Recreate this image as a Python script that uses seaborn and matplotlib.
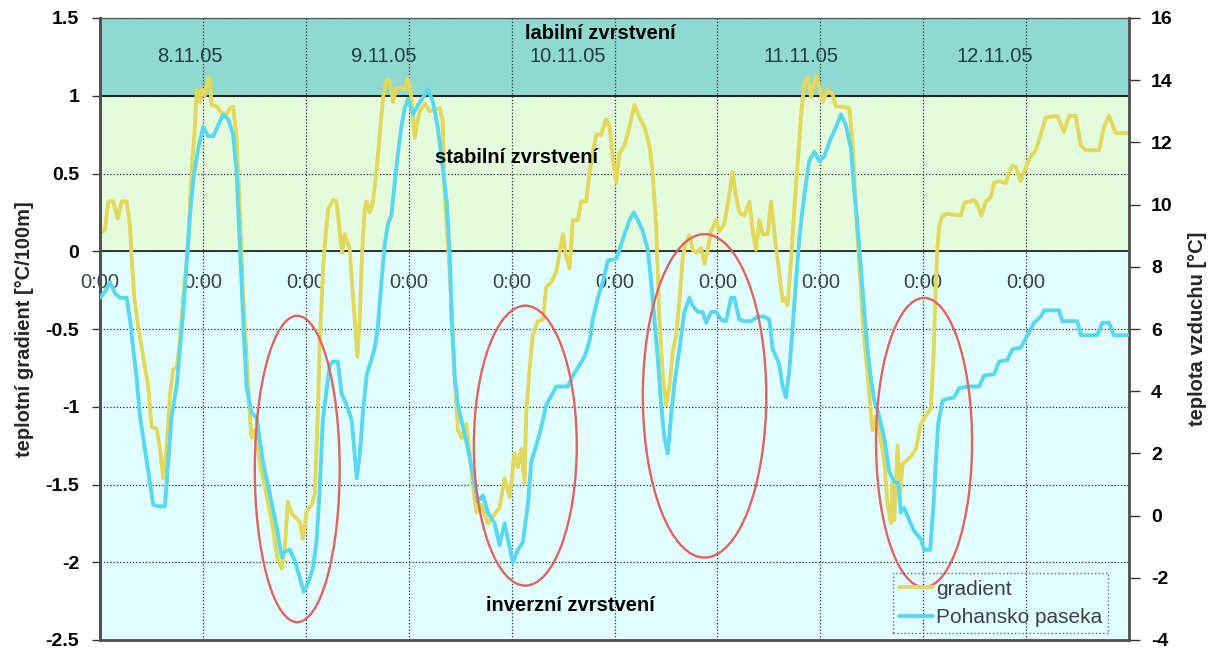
import matplotlib
matplotlib.use("Agg")
import matplotlib.pyplot as plt
from matplotlib.patches import Ellipse
import numpy as np
import pandas as pd
import seaborn as sns

# ---- measured series (time in hours from the start of the record) ----
grad_hours = [0.00, 0.58, 0.97, 1.55, 2.06, 2.53, 3.11, 3.50, 3.69, 4.00, 4.46, 5.04, 5.63, 6.02, 6.61,
              6.99, 7.37, 7.77, 8.16, 8.54, 8.94, 9.32, 9.70, 10.29, 10.68, 11.07, 11.27, 11.65, 11.85,
              12.23, 12.62, 12.82, 13.01, 13.60, 14.18, 14.76, 15.15, 15.53, 15.93, 16.31, 16.70, 17.09,
              17.48, 17.67, 18.06, 18.64, 19.22, 19.81, 20.16, 20.74, 21.20, 21.55, 21.90, 22.37, 22.95,
              23.30, 23.65, 24.12, 24.70, 25.05, 25.43, 25.63, 26.02, 26.21, 26.60, 27.18, 27.58, 27.96,
              28.23, 28.54, 29.13, 29.39, 29.71, 30.02, 30.29, 30.56, 30.87, 31.07, 31.46, 31.84, 32.24,
              32.62, 33.01, 33.40, 33.79, 34.17, 34.57, 35.15, 35.53, 35.92, 36.31, 36.70, 37.08, 37.28,
              37.86, 38.45, 39.61, 39.96, 40.19, 40.58, 40.97, 41.16, 41.36, 41.74, 42.14, 42.72, 43.11,
              43.49, 43.89, 44.47, 45.24, 46.02, 46.60, 47.18, 47.77, 48.35, 48.73, 49.13, 49.51, 49.71,
              50.10, 50.48, 51.06, 51.65, 52.04, 52.62, 53.21, 53.59, 53.98, 54.37, 54.76, 55.14, 55.72,
              56.12, 56.70, 57.09, 57.47, 57.87, 58.45, 59.03, 59.42, 59.80, 60.20, 60.58, 61.17, 61.75,
              62.33, 62.91, 63.50, 64.08, 64.46, 64.86, 65.24, 65.63, 66.02, 66.41, 66.79, 67.19, 67.57,
              67.96, 68.35, 68.74, 69.12, 69.52, 70.10, 70.49, 70.87, 71.27, 71.85, 72.23, 72.82, 73.40,
              73.78, 74.18, 74.56, 75.15, 75.73, 76.11, 76.51, 76.89, 77.28, 77.86, 78.26, 78.64, 79.03,
              79.61, 79.81, 80.19, 80.59, 80.97, 81.35, 81.75, 82.14, 82.52, 82.92, 83.50, 83.88, 84.27,
              84.85, 85.43, 85.83, 86.60, 87.38, 87.76, 88.16, 88.54, 88.93, 89.32, 89.71, 90.09, 90.49,
              90.87, 91.46, 91.84, 92.24, 92.42, 92.62, 93.01, 93.32, 93.59, 93.98, 94.57, 95.15, 95.73,
              96.50, 96.90, 97.20, 97.48, 97.67, 97.87, 98.25, 98.83, 100.39, 100.78, 101.94, 102.33,
              102.79, 103.30, 103.89, 104.27, 104.85, 105.63, 106.02, 106.40, 106.80, 107.38, 107.96,
              108.55, 109.13, 109.71, 110.29, 111.65, 112.43, 113.01, 113.79, 114.37, 114.96, 116.51,
              117.09, 117.67, 118.45, 119.80]
grad_values = [0.11, 0.14, 0.32, 0.32, 0.21, 0.32, 0.32, 0.16, -0.04, -0.30, -0.49, -0.68, -0.87, -1.13, -1.14,
               -1.27, -1.46, -1.27, -0.92, -0.76, -0.75, -0.58, -0.30, 0.04, 0.51, 0.80, 1.04, 0.96, 1.04,
               1.00, 1.12, 1.10, 0.94, 0.93, 0.89, 0.88, 0.92, 0.93, 0.73, 0.27, -0.30, -0.68,
               -1.06, -1.20, -1.15, -1.37, -1.51, -1.68, -1.78, -1.99, -2.04, -1.91, -1.61, -1.69, -1.72,
               -1.74, -1.85, -1.67, -1.63, -1.56, -1.00, -0.58, -0.11, 0.04, 0.27, 0.33, 0.32, 0.13,
               -0.01, 0.11, 0.01, -0.20, -0.44, -0.68, -0.44, -0.01, 0.27, 0.32, 0.25, 0.32, 0.51,
               0.75, 0.99, 1.10, 1.10, 0.96, 1.05, 1.05, 1.04, 1.11, 0.99, 0.73, 0.85, 0.90,
               0.95, 0.90, 0.92, 0.84, 0.39, 0.04, -0.32, -0.56, -0.80, -1.15, -1.20, -1.11, -1.30,
               -1.51, -1.68, -1.63, -1.75, -1.69, -1.65, -1.46, -1.58, -1.30, -1.39, -1.27, -1.49, -1.04,
               -0.75, -0.54, -0.45, -0.44, -0.23, -0.20, -0.13, -0.01, 0.11, -0.04, -0.11, 0.20, 0.20,
               0.32, 0.32, 0.51, 0.63, 0.75, 0.75, 0.85, 0.80, 0.60, 0.44, 0.63, 0.68, 0.80,
               0.94, 0.86, 0.80, 0.68, 0.50, 0.16, -0.44, -0.80, -0.99, -0.87, -0.65, -0.54, -0.32,
               -0.04, 0.06, 0.10, 0.01, -0.01, 0.02, -0.08, 0.01, 0.13, 0.20, 0.13, 0.18, 0.37,
               0.51, 0.35, 0.25, 0.23, 0.32, 0.13, 0.01, 0.20, 0.11, 0.11, 0.32, 0.12, -0.06,
               -0.32, -0.30, -0.35, -0.06, 0.27, 0.56, 0.87, 1.08, 1.12, 0.99, 1.13, 1.06, 0.96,
               1.04, 1.01, 0.93, 0.93, 0.92, 0.70, 0.27, -0.08, -0.44, -0.68, -0.92, -1.15, -1.06,
               -1.15, -1.35, -1.63, -1.75, -1.49, -1.73, -1.25, -1.56, -1.37, -1.35, -1.32, -1.27, -1.11,
               -1.04, -1.01, -0.68, -0.20, 0.04, 0.16, 0.23, 0.24, 0.23, 0.31, 0.33, 0.30,
               0.23, 0.32, 0.35, 0.44, 0.45, 0.44, 0.51, 0.55, 0.54, 0.45, 0.54,
               0.61, 0.65, 0.75, 0.86, 0.87, 0.77, 0.87, 0.87, 0.68, 0.65, 0.65,
               0.80, 0.87, 0.76, 0.76]

temp_hours = [0.00, 0.58, 1.17, 1.75, 2.33, 3.11, 3.50, 3.88, 4.28, 4.66, 5.04, 5.44, 5.83, 6.21, 6.79,
              7.57, 7.96, 8.35, 8.94, 9.32, 9.70, 10.10, 10.49, 10.87, 11.45, 12.04, 12.62, 13.20, 13.78,
              14.36, 14.95, 15.53, 15.93, 16.31, 16.70, 17.09, 17.67, 18.26, 18.99, 19.81, 20.62, 21.20,
              21.55, 22.14, 22.72, 23.30, 23.77, 24.23, 24.82, 25.28, 25.63, 25.98, 26.45, 26.80, 27.15,
              27.73, 28.19, 28.54, 28.89, 29.36, 29.71, 29.94, 30.29, 30.64, 31.11, 31.69, 32.04, 32.39,
              32.82, 33.20, 33.59, 33.98, 34.37, 34.75, 35.15, 35.53, 35.92, 36.50, 37.08, 37.67, 38.25,
              38.83, 39.38, 39.96, 40.43, 40.78, 41.01, 41.36, 41.74, 42.33, 42.91, 43.49, 44.07, 44.66,
              45.24, 46.02, 46.60, 47.18, 47.57, 48.15, 48.73, 49.32, 49.90, 50.30, 50.88, 51.46, 52.04,
              52.62, 53.21, 54.56, 55.14, 55.72, 56.50, 57.09, 57.47, 58.05, 58.64, 59.22, 60.20, 60.58,
              61.17, 61.75, 62.25, 62.72, 63.30, 63.88, 64.28, 64.66, 65.04, 65.44, 65.82, 66.21, 66.60,
              66.99, 67.57, 68.15, 68.74, 69.12, 69.71, 70.29, 70.68, 71.27, 71.85, 72.43, 73.01, 73.60,
              73.98, 74.56, 75.15, 75.93, 76.69, 77.48, 78.06, 78.44, 79.03, 79.22, 79.61, 80.00, 80.38,
              80.77, 81.16, 81.55, 81.93, 82.33, 82.71, 83.30, 83.88, 84.46, 85.05, 85.83, 86.41, 86.99,
              87.58, 87.96, 88.34, 88.74, 89.13, 89.51, 89.91, 90.29, 90.87, 91.46, 92.04, 92.62, 93.08,
              93.40, 93.78, 94.37, 94.95, 95.73, 96.12, 96.82, 97.20, 97.48, 97.75, 98.25, 98.83, 99.61,
              100.19, 101.36, 102.52, 103.11, 104.27, 104.85, 105.82, 106.40, 107.38, 108.15, 108.93,
              109.71, 110.10, 111.84, 112.23, 113.98, 114.37, 116.30, 116.89, 117.67, 118.25, 119.80]
temp_values = [7.0, 7.2, 7.5, 7.15, 7.0, 7.0, 6.3, 5.35, 4.4, 3.2, 2.5, 1.75, 1.05, 0.35, 0.3,
               0.3, 1.75, 3.2, 4.15, 5.35, 6.55, 8.1, 9.65, 10.8, 11.8, 12.5, 12.2, 12.2, 12.55,
               12.9, 12.75, 12.25, 11.05, 8.7, 6.3, 4.15, 3.3, 3.15, 1.75, 0.7, -0.4, -1.35,
               -1.15, -1.1, -1.45, -2.0, -2.45, -2.2, -1.7, -0.75, 0.9, 3.05, 4.1, 4.85, 4.95,
               4.95, 3.9, 3.7, 3.45, 3.05, 1.95, 1.2, 1.95, 3.25, 4.55, 5.05, 5.4, 6.05,
               7.5, 8.7, 9.4, 9.65, 10.7, 11.65, 12.5, 13.1, 13.4, 12.9, 13.2, 13.45, 13.7,
               13.3, 12.5, 11.2, 10.1, 8.5, 6.3, 4.5, 3.55, 2.85, 2.15, 1.3, 0.45, 0.65,
               0.1, -0.25, -0.95, -0.25, -0.75, -1.5, -1.1, -0.85, 0.35, 1.75, 2.25, 2.85, 3.55,
               3.85, 4.15, 4.15, 4.5, 4.75, 5.1, 5.6, 6.3, 7.0, 7.5, 8.2, 8.25, 8.55,
               9.05, 9.5, 9.75, 9.5, 9.15, 8.55, 7.5, 6.3, 5.1, 3.55, 2.5, 2.0, 3.2,
               4.25, 5.35, 6.55, 7.0, 6.75, 6.55, 6.55, 6.2, 6.55, 6.55, 6.3, 6.25, 7.0,
               7.0, 6.3, 6.25, 6.25, 6.4, 6.4, 6.3, 5.35, 5.0, 4.85, 4.15, 3.8, 4.65,
               6.05, 7.5, 8.9, 9.85, 10.7, 11.4, 11.7, 11.4, 11.55, 12.0, 12.5, 12.9, 12.55,
               11.8, 10.45, 9.3, 7.95, 6.55, 5.35, 4.4, 3.7, 3.2, 2.5, 1.4, 1.1, 1.05,
               0.1, 0.25, -0.15, -0.5, -0.75, -1.1, -1.1, 0.35, 1.75, 2.95, 3.7, 3.75, 3.8,
               4.1, 4.15, 4.15, 4.5, 4.55, 4.95, 5.0, 5.35, 5.4, 5.8, 6.2,
               6.4, 6.6, 6.6, 6.25, 6.25, 5.8, 5.8, 6.2, 6.2, 5.8, 5.8]

series_names = ["gradient", "Pohansko paseka"]

# ---- axis annotation texts ----
time_ticks = list(range(0, 120, 12))
time_tick_text = "0:00"
day_labels = ["8.11.05", "9.11.05", "10.11.05", "11.11.05", "12.11.05"]
day_label_hours = [10.5, 33.1, 54.5, 81.7, 104.3]
layer_labels = ["labilní zvrstvení", "stabilní zvrstvení", "inverzní zvrstvení"]
layer_label_pos = [(58.3, 1.40), (48.6, 0.60), (54.9, -2.28)]

# inversion episodes marked with ellipses: centre hour, centre gradient, width (h), height
episodes = [(23.0, -1.40, 9.9, 1.97),
            (49.6, -1.25, 12.0, 1.80),
            (70.5, -0.93, 14.4, 2.08),
            (96.1, -1.23, 11.2, 1.86)]

# ---- styling ----
YELLOW = "#E2D85C"
CYAN = "#58D8F0"
RED = "#E06262"
BAND_LABILE = "#8FD9D0"
BAND_STABLE = "#E4FCDC"
BAND_INVERSE = "#E0FFFE"

sns.set_style("white")
plt.rcParams["font.family"] = ["Liberation Sans", "DejaVu Sans"]

fig = plt.figure(figsize=(12.16, 6.5), dpi=100)
ax = fig.add_axes([100 / 1216, 10 / 650, 1029 / 1216, 622 / 650])

grad_df = pd.DataFrame({"hour": grad_hours, "value": grad_values})
temp_df = pd.DataFrame({"hour": temp_hours, "value": temp_values})

# stratification bands
ax.axhspan(1.0, 1.5, facecolor=BAND_LABILE, edgecolor="none", zorder=0)
ax.axhspan(0.0, 1.0, facecolor=BAND_STABLE, edgecolor="none", zorder=0)
ax.axhspan(-2.5, 0.0, facecolor=BAND_INVERSE, edgecolor="none", zorder=0)

sns.lineplot(data=grad_df, x="hour", y="value", ax=ax, color=YELLOW, lw=2.8,
             estimator=None, sort=False, label=series_names[0], zorder=3)

ax.set_xlim(0, 120)
ax.set_ylim(-2.5, 1.5)
yt = np.arange(-2.5, 1.51, 0.5)
ax.set_yticks(yt)
ax.set_yticklabels([f"{v:g}" for v in yt], fontweight="bold")
ax.set_xticks(time_ticks)
ax.set_xticklabels([time_tick_text] * len(time_ticks))
ax.spines["bottom"].set_position(("data", 0))
ax.spines["bottom"].set_visible(False)
ax.tick_params(axis="x", length=0, pad=16, labelsize=14.5, labelcolor="#3a4444")
ax.tick_params(axis="y", direction="out", length=6, width=1, pad=9, labelsize=14,
               colors="#333333", labelcolor="black")
ax.grid(True, color="#1f2d2d", linestyle=(0, (1, 1.6)), linewidth=0.9)
ax.axhline(0, color="#333333", lw=1.4, zorder=2)
ax.axhline(1, color="#222222", lw=1.4, zorder=2)
ax.set_xlabel("")
ax.set_ylabel("teplotní gradient [°C/100m]", fontsize=14.5, fontweight="bold", labelpad=8)
for side in ["left", "right", "top"]:
    ax.spines[side].set_color("#505050")
ax.spines["left"].set_linewidth(2.0)

ax2 = ax.twinx()
sns.lineplot(data=temp_df, x="hour", y="value", ax=ax2, color=CYAN, lw=2.8,
             estimator=None, sort=False, label=series_names[1], zorder=3)
ax2.set_ylim(-4, 16)
ax2.set_xlim(0, 120)
ax2.set_yticks(range(-4, 17, 2))
ax2.set_yticklabels([str(v) for v in range(-4, 17, 2)], fontweight="bold")
ax2.tick_params(axis="y", direction="out", length=8, width=1, pad=8, labelsize=14,
                colors="#333333", labelcolor="black")
ax2.set_ylabel("teplota vzduchu [°C]", fontsize=14.5, fontweight="bold", labelpad=11)
ax2.set_xlabel("")
ax2.spines["right"].set_linewidth(2.0)
ax2.spines["left"].set_linewidth(2.0)
for side in ["left", "right", "top", "bottom"]:
    ax2.spines[side].set_color("#505050")
ax2.spines["bottom"].set_linewidth(2.0)

# ellipses and labels are placed in gradient units
for cx, cy, w, h in episodes:
    ax2.add_patch(Ellipse((cx, cy), w, h, transform=ax.transData, fill=False,
                          edgecolor=RED, lw=1.7, zorder=5))
ax2.set_ylim(-4, 16)
ax2.set_xlim(0, 120)

for txt, hr in zip(day_labels, day_label_hours):
    ax2.text(hr, 1.255, txt, transform=ax.transData, ha="center", va="center",
             fontsize=14.5, color="#1f3c3c", zorder=4)
for txt, (hx, gy) in zip(layer_labels, layer_label_pos):
    ax2.text(hx, gy, txt, transform=ax.transData, ha="center", va="center",
             fontsize=14.5, fontweight="bold", color="black", zorder=6)

h1, l1 = ax.get_legend_handles_labels()
h2, l2 = ax2.get_legend_handles_labels()
if ax.get_legend() is not None:
    ax.get_legend().remove()
leg = ax2.legend(h1 + h2, l1 + l2, loc="lower right", bbox_to_anchor=(0.980, 0.011),
                 frameon=True, fancybox=False, fontsize=15, handlelength=1.6,
                 handletextpad=0.15, labelspacing=0.45, borderpad=0.3, borderaxespad=0)
leg.get_frame().set_facecolor("none")
leg.get_frame().set_edgecolor("#444444")
leg.get_frame().set_linestyle(":")
leg.get_frame().set_linewidth(1.0)
for t in leg.get_texts():
    t.set_color("#3a4444")

fig.savefig("out.png", dpi=100)
